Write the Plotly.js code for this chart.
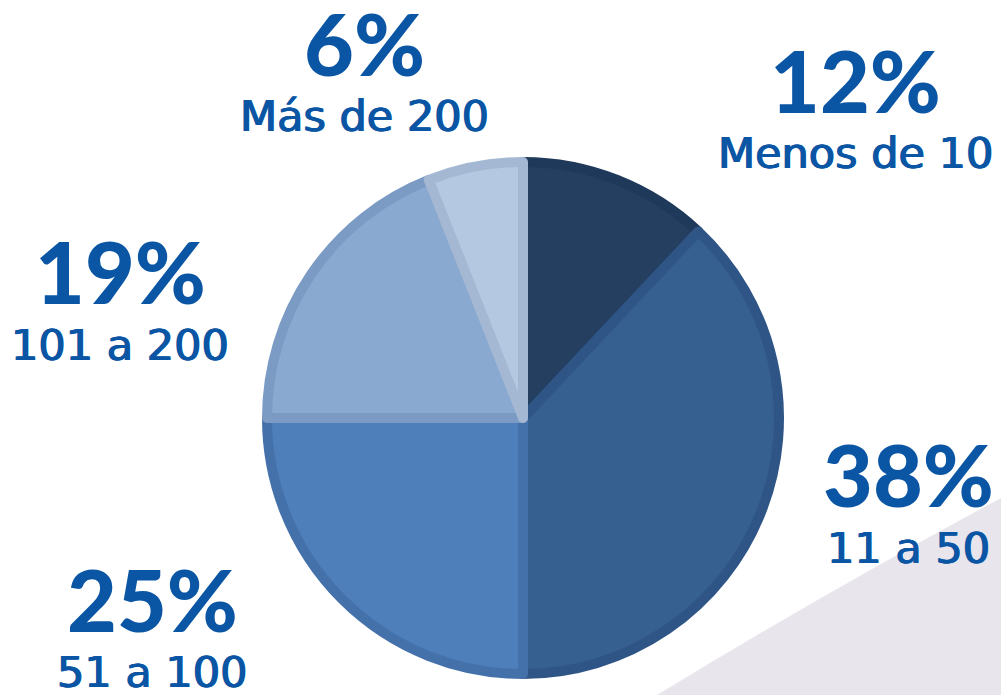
<!DOCTYPE html>
<html>
<head>
<meta charset="utf-8">
<script src="https://cdn.plot.ly/plotly-3.0.1.min.js"></script>
<style>
html,body{margin:0;padding:0;background:#fff;}
#chart{width:1001px;height:695px;}
</style>
</head>
<body>
<div id="chart"></div>
<script>
const categories = ["Menos de 10", "11 a 50", "51 a 100", "101 a 200", "Más de 200"];
const values = [12, 38, 25, 19, 6];
const fillColors = ["#243f5f", "#36608f", "#4f7fba", "#8aa9d1", "#b5c8e2"];
const borderColors = ["#1f395a", "#2f5586", "#4571aa", "#7c9bc4", "#a4b8d3"];

// label anchor positions (pixel centres) for each category
const labelPos = [
  {x: 855, y: 79},
  {x: 908, y: 474},
  {x: 152, y: 598},
  {x: 120, y: 271},
  {x: 364, y: 42}
];

const W = 1001, H = 695;
const cx = 523, cy = 418, R = 256;

const textColor = "#0b56a4";
const annotations = [];
categories.forEach((c, i) => {
  const p = labelPos[i];
  annotations.push({
    xref: "paper", yref: "paper",
    x: p.x / W, y: 1 - p.y / H,
    xanchor: "center", yanchor: "middle",
    text: values[i] + "%",
    showarrow: false,
    font: {family: "Lato, 'Open Sans', sans-serif", size: 86, color: textColor, weight: 900}
  });
  annotations.push({
    xref: "paper", yref: "paper",
    x: p.x / W, y: 1 - (p.y + 74) / H,
    xanchor: "center", yanchor: "middle",
    text: c,
    showarrow: false,
    font: {family: "'DejaVu Sans', sans-serif", size: 43, color: textColor,
           shadow: "0.7px 0 0 " + textColor + ", -0.7px 0 0 " + textColor}
  });
});

const trace = {
  type: "pie",
  labels: categories,
  values: values,
  sort: false,
  direction: "clockwise",
  rotation: 0,
  textinfo: "none",
  hoverinfo: "label+percent",
  marker: {colors: fillColors, line: {color: borderColors, width: 10}},
  domain: {x: [(cx - R) / W, (cx + R) / W], y: [1 - (cy + R) / H, 1 - (cy - R) / H]},
  showlegend: false
};

const layout = {
  width: W, height: H,
  margin: {l: 0, r: 0, t: 0, b: 0},
  paper_bgcolor: "#ffffff",
  plot_bgcolor: "#ffffff",
  showlegend: false,
  shapes: [{
    type: "path", xref: "paper", yref: "paper", layer: "below",
    path: "M " + (657 / W) + ",0 Q 0.82," + (1 - 595 / H) + " 1," + (1 - 498 / H) + " L 1,0 Z",
    fillcolor: "#e9e5ec", line: {width: 0}
  }],
  annotations: annotations
};

Plotly.newPlot("chart", [trace], layout, {displayModeBar: false, staticPlot: true});
</script>
</body>
</html>
